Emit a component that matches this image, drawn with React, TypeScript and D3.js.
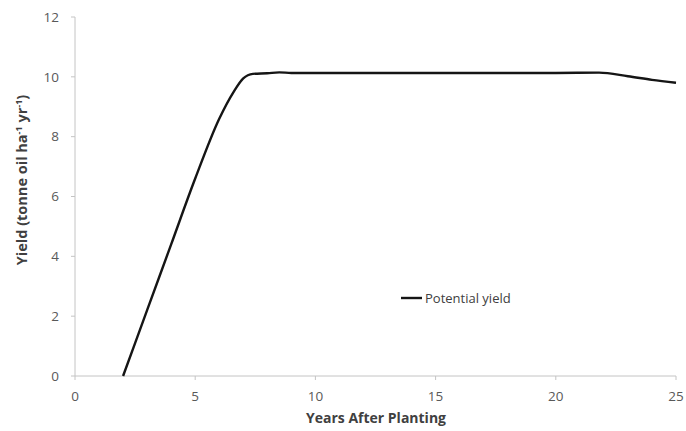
import React from "react";
import * as d3 from "d3";

const years = [2, 3, 4, 5, 6, 6.6, 7, 7.4, 8, 8.5, 9, 10, 12, 15, 18, 20, 21.8, 23, 24, 25];
const yieldValues = [0, 2.2, 4.4, 6.6, 8.6, 9.5, 9.95, 10.1, 10.12, 10.15, 10.13, 10.13, 10.13, 10.13, 10.13, 10.13, 10.14, 10.02, 9.9, 9.8];
const xTicks = [0, 5, 10, 15, 20, 25];
const yTicks = [0, 2, 4, 6, 8, 10, 12];
const seriesName = "Potential yield";

export default function App() {
  const W = 686, H = 431;
  const x = d3.scaleLinear().domain([0, 25]).range([75, 676]);
  const y = d3.scaleLinear().domain([0, 12]).range([376, 17]);
  const data = years.map((v, i) => [v, yieldValues[i]] as [number, number]);
  const line = d3.line<[number, number]>().x(d => x(d[0])).y(d => y(d[1])).curve(d3.curveMonotoneX);
  const font = "'Open Sans', 'Liberation Sans', sans-serif";
  return (
    <svg width={W} height={H} style={{ position: "absolute", left: 0, top: 0, background: "#fff" }} fontFamily={font}>
      <line x1={x(0)} x2={x(0)} y1={y(12)} y2={y(0)} stroke="#c4c4c4" strokeWidth={1} />
      <line x1={x(0)} x2={x(25)} y1={y(0)} y2={y(0)} stroke="#c4c4c4" strokeWidth={1} />
      {yTicks.map(t => (
        <g key={"y" + t}>
          <line x1={x(0) - 4} x2={x(0)} y1={y(t)} y2={y(t)} stroke="#c4c4c4" />
          <text x={x(0) - 16} y={y(t)} dy="0.35em" textAnchor="end" fontSize={13.5} fill="#595959">{t}</text>
        </g>
      ))}
      {xTicks.map(t => (
        <g key={"x" + t}>
          <line x1={x(t)} x2={x(t)} y1={y(0)} y2={y(0) + 4} stroke="#c4c4c4" />
          <text x={x(t)} y={y(0) + 20} dy="0.35em" textAnchor="middle" fontSize={13.5} fill="#595959">{t}</text>
        </g>
      ))}
      <path d={line(data) || ""} fill="none" stroke="#151515" strokeWidth={2.4} />
      <text x={376} y={423} textAnchor="middle" fontSize={14} fontWeight="bold" fill="#404040">Years After Planting</text>
      <text transform={`translate(27,180) rotate(-90)`} textAnchor="middle" fontSize={14.5} fontWeight="bold" fill="#404040">
        Yield (tonne oil ha<tspan dy={-5} fontSize={9}>-1</tspan><tspan dy={5}> yr</tspan><tspan dy={-5} fontSize={9}>-1</tspan><tspan dy={5}>)</tspan>
      </text>
      <line x1={401} x2={422} y1={298} y2={298} stroke="#151515" strokeWidth={2.4} />
      <text x={425} y={298} dy="0.35em" fontSize={13} fill="#404040">{seriesName}</text>
    </svg>
  );
}
